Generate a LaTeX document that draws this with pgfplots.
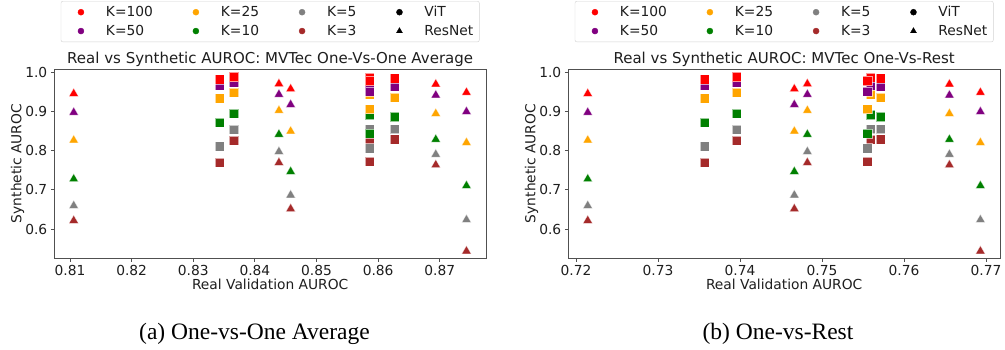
\documentclass[border=0pt]{standalone}
\usepackage{pgfplots}
\usepackage{pgfplotstable}
\pgfplotsset{compat=1.18}
\usepackage{fontspec}
\setmainfont{DejaVu Sans}
\newfontfamily\capfont{Liberation Serif}
\definecolor{mred}{RGB}{255,0,0}
\definecolor{mpurple}{RGB}{128,0,128}
\definecolor{morange}{RGB}{255,165,0}
\definecolor{mgreen}{RGB}{0,128,0}
\definecolor{mgray}{RGB}{128,128,128}
\definecolor{mbrown}{RGB}{165,42,42}
\definecolor{spine}{RGB}{80,80,80}
\definecolor{txt}{RGB}{30,30,30}
\definecolor{leggray}{RGB}{210,210,210}

\pgfplotstableread{
xL      xR       k100  k50   k25   k10   k5    k3
0.8343  0.73565  0.982 0.967 0.934 0.871 0.811 0.770
0.8366  0.7396   0.988 0.973 0.948 0.895 0.854 0.826
0.8586  0.75591  0.986 0.966 0.944 0.891 0.855 0.828
0.8586  0.75551  0.978 0.951 0.906 0.844 0.806 0.772
0.8627  0.75713  0.985 0.963 0.936 0.886 0.855 0.829
}\vit
\pgfplotstableread{
xL      xR       k100  k50   k25   k10   k5    k3
0.8106  0.72143  0.949 0.901 0.830 0.731 0.663 0.625
0.8439  0.74821  0.974 0.947 0.906 0.845 0.801 0.773
0.8458  0.74662  0.961 0.921 0.853 0.750 0.690 0.655
0.86935 0.76553  0.973 0.945 0.898 0.832 0.794 0.767
0.87433 0.76931  0.952 0.903 0.824 0.714 0.627 0.547
}\res

\newcommand\fmain{\fontsize{13.8pt}{16.5pt}\selectfont}
\newcommand\ftitle{\fontsize{15pt}{18pt}\selectfont}

\pgfplotsset{
  every axis title shift=0pt,
  panel/.style={
    scale only axis, width=431.7pt, height=189pt, anchor=south west,
    ymin=0.526, ymax=1.0084,
    ytick={0.6,0.7,0.8,0.9,1.0},
    axis line style={spine, line width=0.9pt},
    tick style={spine, line width=0.8pt},
    tick align=outside, major tick length=3.5pt,
    tick pos=left,
    minor tick num=0,
    scaled ticks=false,
    /pgf/number format/assume math mode=true,
    tick label style={font=\fmain, text=txt},
    x tick label style={/pgf/number format/fixed, /pgf/number format/fixed zerofill, /pgf/number format/precision=2},
    y tick label style={/pgf/number format/fixed, /pgf/number format/fixed zerofill, /pgf/number format/precision=1},
    label style={font=\fmain, text=txt},
    xlabel={Real Validation AUROC},
    ylabel={Synthetic AUROC},
    title style={font=\ftitle, text=txt, at={(axis description cs:0.5,1)}, anchor=base, yshift=5.5pt},
    xlabel style={at={(axis description cs:0.5,0)}, anchor=base, yshift=-31pt},
    ylabel style={at={(axis description cs:-0.076,0.5)}, anchor=base},
    legend columns=4,
    legend cell align=left,
    legend style={at={(axis description cs:0.5,1)}, anchor=north, yshift=68pt, draw=leggray, rounded corners=2pt, font=\fmain, text=txt, inner xsep=6pt, inner ysep=4pt, row sep=5pt, nodes={inner xsep=0pt, inner ysep=1pt}, /tikz/every odd column/.append style={column sep=11pt}, /tikz/every even column/.append style={column sep=29pt}},
    legend image code/.code={\path[draw=none, fill=none] (0pt,-3pt) rectangle (28pt,3pt); \draw[mark repeat=2, mark phase=2, ##1] plot coordinates {(0pt,0pt) (14pt,0pt) (28pt,0pt)};},
  },
  vit/.style={forget plot, only marks, mark=square*, mark size=4.6pt, color=#1, mark options={draw=white, draw opacity=0.6, line width=0.5pt, fill=#1}},
  res/.style={forget plot, only marks, mark=triangle*, mark size=5.4pt, color=#1, mark options={draw=white, draw opacity=0.6, line width=0.5pt, fill=#1, yshift=-1.35pt}},
}

\begin{document}
\begin{tikzpicture}
\path (0pt,0pt) rectangle (1005pt,349pt);
% ---------------- left panel ----------------
\begin{axis}[panel, at={(54.3pt,91pt)},
  xmin=0.80745, xmax=0.8775,
  xtick={0.81,0.82,0.83,0.84,0.85,0.86,0.87},
  title={Real vs Synthetic AUROC: MVTec One-Vs-One Average}]
\addlegendimage{only marks, mark=*, mark size=3pt, color=mred}
\addlegendentry{K=100}
\addlegendimage{only marks, mark=*, mark size=3pt, color=morange}
\addlegendentry{K=25}
\addlegendimage{only marks, mark=*, mark size=3pt, color=mgray}
\addlegendentry{K=5}
\addlegendimage{only marks, mark=*, mark size=3pt, color=black}
\addlegendentry{ViT}
\addlegendimage{only marks, mark=*, mark size=3pt, color=mpurple}
\addlegendentry{K=50}
\addlegendimage{only marks, mark=*, mark size=3pt, color=mgreen}
\addlegendentry{K=10}
\addlegendimage{only marks, mark=*, mark size=3pt, color=mbrown}
\addlegendentry{K=3}
\addlegendimage{only marks, mark=triangle*, mark size=3.4pt, color=black}
\addlegendentry{ResNet}
\addplot[vit=mbrown] table[x=xL, y=k3] {\vit};
\addplot[res=mbrown] table[x=xL, y=k3] {\res};
\addplot[vit=mgray] table[x=xL, y=k5] {\vit};
\addplot[res=mgray] table[x=xL, y=k5] {\res};
\addplot[vit=mgreen] table[x=xL, y=k10] {\vit};
\addplot[res=mgreen] table[x=xL, y=k10] {\res};
\addplot[vit=morange] table[x=xL, y=k25] {\vit};
\addplot[res=morange] table[x=xL, y=k25] {\res};
\addplot[vit=mpurple] table[x=xL, y=k50] {\vit};
\addplot[res=mpurple] table[x=xL, y=k50] {\res};
\addplot[vit=mred] table[x=xL, y=k100] {\vit};
\addplot[res=mred] table[x=xL, y=k100] {\res};
\end{axis}
% ---------------- right panel ----------------
\begin{axis}[panel, at={(568.3pt,91pt)},
  xmin=0.71906, xmax=0.7717,
  xtick={0.72,0.73,0.74,0.75,0.76,0.77},
  title={Real vs Synthetic AUROC: MVTec One-Vs-Rest}]
\addlegendimage{only marks, mark=*, mark size=3pt, color=mred}
\addlegendentry{K=100}
\addlegendimage{only marks, mark=*, mark size=3pt, color=morange}
\addlegendentry{K=25}
\addlegendimage{only marks, mark=*, mark size=3pt, color=mgray}
\addlegendentry{K=5}
\addlegendimage{only marks, mark=*, mark size=3pt, color=black}
\addlegendentry{ViT}
\addlegendimage{only marks, mark=*, mark size=3pt, color=mpurple}
\addlegendentry{K=50}
\addlegendimage{only marks, mark=*, mark size=3pt, color=mgreen}
\addlegendentry{K=10}
\addlegendimage{only marks, mark=*, mark size=3pt, color=mbrown}
\addlegendentry{K=3}
\addlegendimage{only marks, mark=triangle*, mark size=3.4pt, color=black}
\addlegendentry{ResNet}
\addplot[vit=mbrown] table[x=xR, y=k3] {\vit};
\addplot[res=mbrown] table[x=xR, y=k3] {\res};
\addplot[vit=mgray] table[x=xR, y=k5] {\vit};
\addplot[res=mgray] table[x=xR, y=k5] {\res};
\addplot[vit=mgreen] table[x=xR, y=k10] {\vit};
\addplot[res=mgreen] table[x=xR, y=k10] {\res};
\addplot[vit=morange] table[x=xR, y=k25] {\vit};
\addplot[res=morange] table[x=xR, y=k25] {\res};
\addplot[vit=mpurple] table[x=xR, y=k50] {\vit};
\addplot[res=mpurple] table[x=xR, y=k50] {\res};
\addplot[vit=mred] table[x=xR, y=k100] {\vit};
\addplot[res=mred] table[x=xR, y=k100] {\res};
\end{axis}
% ---------------- captions ----------------
\node[font=\capfont\fontsize{23.5pt}{28pt}\selectfont, anchor=base, inner sep=0pt] at (254.5pt,9.7pt) {(a) One-vs-One Average};
\node[font=\capfont\fontsize{23.5pt}{28pt}\selectfont, anchor=base, inner sep=0pt] at (778pt,9.7pt) {(b) One-vs-Rest};
\end{tikzpicture}
\end{document}
